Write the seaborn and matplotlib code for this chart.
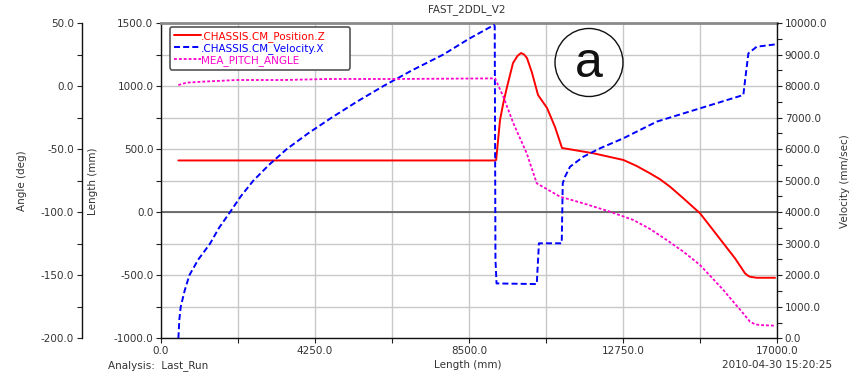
import numpy as np
import pandas as pd
import matplotlib
matplotlib.use("Agg")
import matplotlib.pyplot as plt
import seaborn as sns
from matplotlib.patches import Ellipse
from matplotlib.ticker import MultipleLocator, FormatStrFormatter

sns.set_theme(style="ticks")
plt.rcParams["font.family"] = ["DejaVu Sans"]

# ---------------- data ----------------
pos_x = [478, 9218, 9250, 9356, 9450, 9549, 9715, 9840, 9936, 10020, 10101, 10240,
         10405, 10654, 10874, 11067, 11932, 12760, 13129, 13496, 13772, 14048, 14416,
         14876, 15199, 15520, 15842, 16118, 16210, 16256, 16440, 16945]
pos_z = [410, 410, 414, 731, 870, 993, 1183, 1240, 1262, 1250, 1222, 1104,
         929, 826, 675, 509, 467, 414, 366, 308, 261, 202, 110,
         -9, -128, -247, -366, -485, -506, -512, -520, -520]

vel_x = [480, 505, 544, 650, 782, 1030, 1352, 1600, 1904, 2200, 2548, 2980, 3469,
         4060, 4711, 5400, 6136, 6930, 7792, 8500, 9190,
         9210, 9230, 9260, 10370, 10430, 11059, 11087, 11150, 11288, 11656,
         12116, 12760, 13681, 14876, 16071, 16120, 16165, 16210, 16440, 16945]
vel_v = [0, 580, 1000, 1500, 2000, 2500, 3000, 3500, 4000, 4500, 5000, 5500, 6000,
         6500, 7000, 7500, 8000, 8500, 9000, 9500, 9937,
         9900, 2500, 1740, 1720, 3013, 3013, 4916, 5125, 5442, 5759,
         6026, 6343, 6872, 7294, 7716, 8192, 8614, 9037, 9248, 9320]

ang_x = [478, 709, 1168, 2089, 3376, 4573, 6500, 9218, 9448, 9724, 10093, 10369,
         11012, 11656, 12392, 13036, 13496, 13957, 14416, 14876, 15520, 15751, 15990,
         16256, 16394, 16532, 16945]
ang_a = [0.8, 2.7, 3.5, 4.8, 4.8, 5.6, 5.6, 6.1, -8.4, -29.5, -53.3, -77.1,
         -87.7, -93.0, -99.6, -106.2, -113.3, -122.1, -131.3, -141.9, -161.7, -169.6, -177.6,
         -186.8, -188.9, -189.5, -190.0]

labels = [".CHASSIS.CM_Position.Z", ".CHASSIS.CM_Velocity.X", "MEA_PITCH_ANGLE"]
colors = ["#ff0000", "#0000ff", "#ff00cc"]

W, H = 853, 375
fig = plt.figure(figsize=(W / 100, H / 100), dpi=100)
L, R, T, B = 161, 777, 23, 338.3
ax = fig.add_axes([L / W, 1 - B / H, (R - L) / W, (B - T) / H])
axv = ax.twinx()
axa = ax.twinx()

fs = 7.5
tcol = "#333333"

# lines
sns.lineplot(x=pos_x, y=pos_z, ax=ax, color=colors[0], linewidth=1.4,
             estimator=None, sort=False, legend=False)
sns.lineplot(x=vel_x, y=vel_v, ax=axv, color=colors[1], linewidth=1.4,
             estimator=None, sort=False, legend=False)
sns.lineplot(x=ang_x, y=ang_a, ax=axa, color=colors[2], linewidth=1.3,
             estimator=None, sort=False, legend=False)
l_pos = ax.lines[-1]
l_vel = axv.lines[-1]
l_vel.set_dashes([3.1, 1.6])
l_ang = axa.lines[-1]
l_ang.set_dashes([1.6, 1.1])

# limits / ticks
ax.set_xlim(0, 17000)
ax.set_ylim(-1000, 1500)
axv.set_ylim(0, 10000)
axa.set_ylim(-200, 50)

ax.xaxis.set_major_locator(MultipleLocator(4250))
ax.xaxis.set_minor_locator(MultipleLocator(2125))
ax.yaxis.set_major_locator(MultipleLocator(500))
ax.yaxis.set_minor_locator(MultipleLocator(250))
axv.yaxis.set_major_locator(MultipleLocator(1000))
axv.yaxis.set_minor_locator(MultipleLocator(500))
axa.yaxis.set_major_locator(MultipleLocator(50))
axa.yaxis.set_minor_locator(MultipleLocator(25))
for a in (ax.xaxis, ax.yaxis, axv.yaxis, axa.yaxis):
    a.set_major_formatter(FormatStrFormatter("%.1f"))

ax.grid(which="both", color="#c8c8c8", linewidth=1.0)
ax.set_axisbelow(True)
ax.axhline(0, color="#5a5a5a", linewidth=1.2, zorder=1.5)

for a in (ax, axv, axa):
    a.tick_params(which="both", length=3.5, width=0.8, color="#222222",
                  labelsize=fs, labelcolor=tcol, pad=2)
    a.set_xlabel("")
    a.set_ylabel("")

ax.tick_params(axis="y", which="both", left=True, right=False)
axv.tick_params(axis="y", which="both", left=False, right=True, labelleft=False, labelright=True)
axa.yaxis.set_ticks_position("left")
axa.yaxis.set_label_position("left")
axa.tick_params(axis="y", which="both", left=True, right=False, labelleft=True, labelright=False)

# spines
ax.spines["right"].set_visible(False)
ax.spines["top"].set_color("#8a8a8a")
ax.spines["top"].set_linewidth(2.0)
for sp in ("left", "bottom"):
    ax.spines[sp].set_color("#111111")
    ax.spines[sp].set_linewidth(1.0)
for sp in ("top", "bottom", "left"):
    axv.spines[sp].set_visible(False)
axv.spines["right"].set_visible(True)
axv.spines["right"].set_color("#111111")
axv.spines["right"].set_linewidth(1.0)
for sp in ("top", "bottom", "right"):
    axa.spines[sp].set_visible(False)
axa.spines["left"].set_visible(True)
axa.spines["left"].set_position(("outward", 57))
axa.spines["left"].set_color("#111111")
axa.spines["left"].set_linewidth(1.0)

# legend
leg = axa.legend([l_pos, l_vel, l_ang], labels, loc="upper left",
                 bbox_to_anchor=(0.0146, 0.875, 0.292, 0.111), mode="expand",
                 fontsize=fs, frameon=True,
                 fancybox=True, handlelength=2.6, handletextpad=0.05,
                 labelspacing=0.1, borderpad=0.35, borderaxespad=0.0)
leg.get_frame().set_edgecolor("#555555")
leg.get_frame().set_linewidth(1.2)
leg.get_frame().set_alpha(1.0)
for t, c in zip(leg.get_texts(), colors):
    t.set_color(c)

# texts
def fx(px):
    return px / W
def fy(py):
    return 1 - py / H

fig.text(fx(467), fy(10), "FAST_2DDL_V2", ha="center", va="center", fontsize=fs, color=tcol)
fig.text(fx(22.5), fy(181), "Angle (deg)", rotation=90, ha="center", va="center", fontsize=fs, color=tcol)
fig.text(fx(93), fy(181), "Length (mm)", rotation=90, ha="center", va="center", fontsize=fs, color=tcol)
fig.text(fx(845), fy(181), "Velocity (mm/sec)", rotation=90, ha="center", va="center", fontsize=fs, color=tcol)
fig.text(fx(468), fy(365.5), "Length (mm)", ha="center", va="center", fontsize=fs, color=tcol)
fig.text(fx(108), fy(365.5), "Analysis:  Last_Run", ha="left", va="center", fontsize=fs, color=tcol)
fig.text(fx(832), fy(365.5), "2010-04-30 15:20:25", ha="right", va="center", fontsize=fs, color=tcol)

# circled "a" marker
circ = Ellipse((fx(589), fy(62.5)), 68 / W, 68 / H, transform=fig.transFigure,
               fill=False, edgecolor="#111111", linewidth=1.0, zorder=10)
fig.add_artist(circ)
fig.text(fx(589), fy(64), "a", ha="center", va="center", fontsize=36,
         family=["Liberation Sans", "DejaVu Sans"], color="#111111", zorder=11)

fig.savefig("out.png", dpi=100)
